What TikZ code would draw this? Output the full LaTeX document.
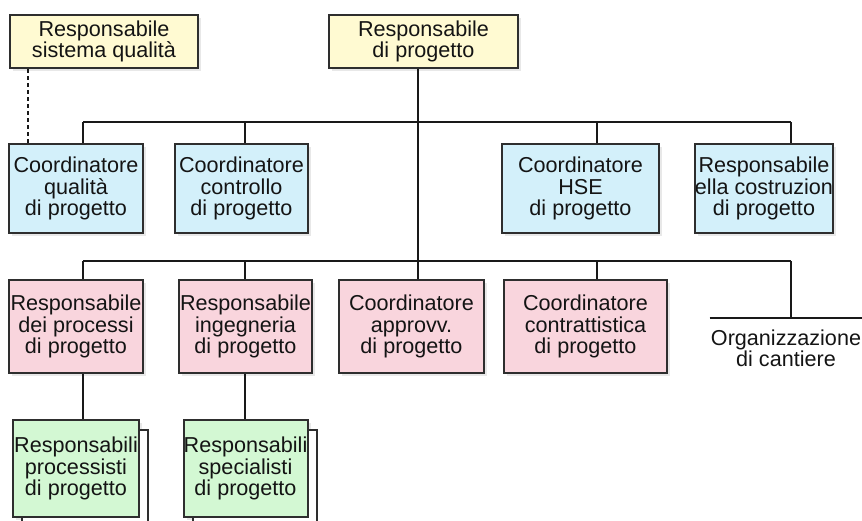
\documentclass[tikz,border=0pt]{standalone}
\usepackage{fontspec}
\setmainfont{Liberation Sans}
\usetikzlibrary{positioning}
\usetikzlibrary{shadows}

\definecolor{giallo}{HTML}{FFFAD2}
\definecolor{azzurro}{HTML}{D3F0FA}
\definecolor{rosa}{HTML}{F9D5DD}
\definecolor{verde}{HTML}{D3F8D3}
\definecolor{bordo}{HTML}{2E2E2E}

\begin{document}
\begin{tikzpicture}[x=0.5pt,y=-0.5pt,
  testo/.style={align=center,text=black!92,font=\fontsize{10.8}{10.85}\selectfont},
  box/.style={testo,draw=bordo,line width=1pt,inner sep=0pt,
    drop shadow={opacity=0.18,shadow xshift=1.5pt,shadow yshift=-1.5pt}},
  alto/.style={box,fill=giallo,minimum height=26.5pt},
  riga1/.style={box,fill=azzurro,minimum height=44.5pt},
  riga2/.style={box,fill=rosa,minimum height=46.5pt},
  riga3/.style={box,fill=verde,minimum height=48.5pt,
    copy shadow={shadow xshift=4.5pt,shadow yshift=-5pt,fill=white,draw=bordo,line width=1pt,opacity=1}},
  linea/.style={draw=black!90,line width=0.8pt}]
  \useasboundingbox (0,0) rectangle (862,520);
  % colonne dei collegamenti
  \coordinate (c0) at (28,0);
  \coordinate (c1) at (83,0);
  \coordinate (c2) at (245,0);
  \coordinate (c3) at (418,0);
  \coordinate (c4) at (597,0);
  \coordinate (c5) at (791,0);
  \coordinate (bus1) at (0,122);
  \coordinate (bus2) at (0,261);

  \node[alto,minimum width=94pt] (sq) at (104,41.5) {Responsabile\\sistema qualità};
  \node[alto,minimum width=94.5pt] (rp) at (423.5,41.5) {Responsabile\\di progetto};

  \node[riga1,minimum width=67pt] (cq) at (76,188.5) {Coordinatore\\qualità\\di progetto};
  \node[riga1,minimum width=66.5pt] (cc) at (241.5,188.5) {Coordinatore\\controllo\\di progetto};
  \node[riga1,minimum width=78.5pt] (hse) at (580.5,188.5) {Coordinatore\\HSE\\di progetto};
  \node[riga1,minimum width=69pt,
    path picture={\node[testo,draw=none,fill=none,inner sep=0pt] at (path picture bounding box.center)
      {Responsabile\\della costruzione\\di progetto};}] (rc) at (764,188.5) {};

  \node[riga2,minimum width=67pt] (rdp) at (76,326.5) {Responsabile\\dei processi\\di progetto};
  \node[riga2,minimum width=66.5pt] (ri) at (245.5,326.5) {Responsabile\\ingegneria\\di progetto};
  \node[riga2,minimum width=72.5pt] (ca) at (411.5,326.5) {Coordinatore\\approvv.\\di progetto};
  \node[riga2,minimum width=81.5pt] (cct) at (585.5,326.5) {Coordinatore\\contrattistica\\di progetto};
  \node[testo,minimum width=76pt,inner xsep=0pt,inner ysep=5.5pt,anchor=north] (org) at (786,318) {Organizzazione\\di cantiere};

  \node[riga3,minimum width=63pt,below=22.5pt of rdp] (rpp) {Responsabili\\processisti\\di progetto};
  \node[riga3,minimum width=62pt,below=22.5pt of ri] (rsp) {Responsabili\\specialisti\\di progetto};

  \draw[linea,dash pattern=on 2pt off 1.5pt] (c0 |- sq.south) -- (c0 |- cq.north);
  \draw[linea] (c3 |- rp.south) -- (c3 |- ca.north);
  \draw[linea] (c1 |- bus1) -- (c5 |- bus1);
  \draw[linea] (c1 |- bus1) -- (c1 |- cq.north);
  \draw[linea] (c2 |- bus1) -- (c2 |- cc.north);
  \draw[linea] (c4 |- bus1) -- (c4 |- hse.north);
  \draw[linea] (c5 |- bus1) -- (c5 |- rc.north);
  \draw[linea] (c1 |- bus2) -- (c5 |- bus2);
  \draw[linea] (c1 |- bus2) -- (c1 |- rdp.north);
  \draw[linea] (c2 |- bus2) -- (c2 |- ri.north);
  \draw[linea] (c4 |- bus2) -- (c4 |- cct.north);
  \draw[linea] (c5 |- bus2) -- (c5 |- org.north);
  \draw[linea] (org.north west) -- (org.north east);
  \draw[linea] (c1 |- rdp.south) -- (c1 |- rpp.north);
  \draw[linea] (c2 |- ri.south) -- (c2 |- rsp.north);
\end{tikzpicture}
\end{document}
